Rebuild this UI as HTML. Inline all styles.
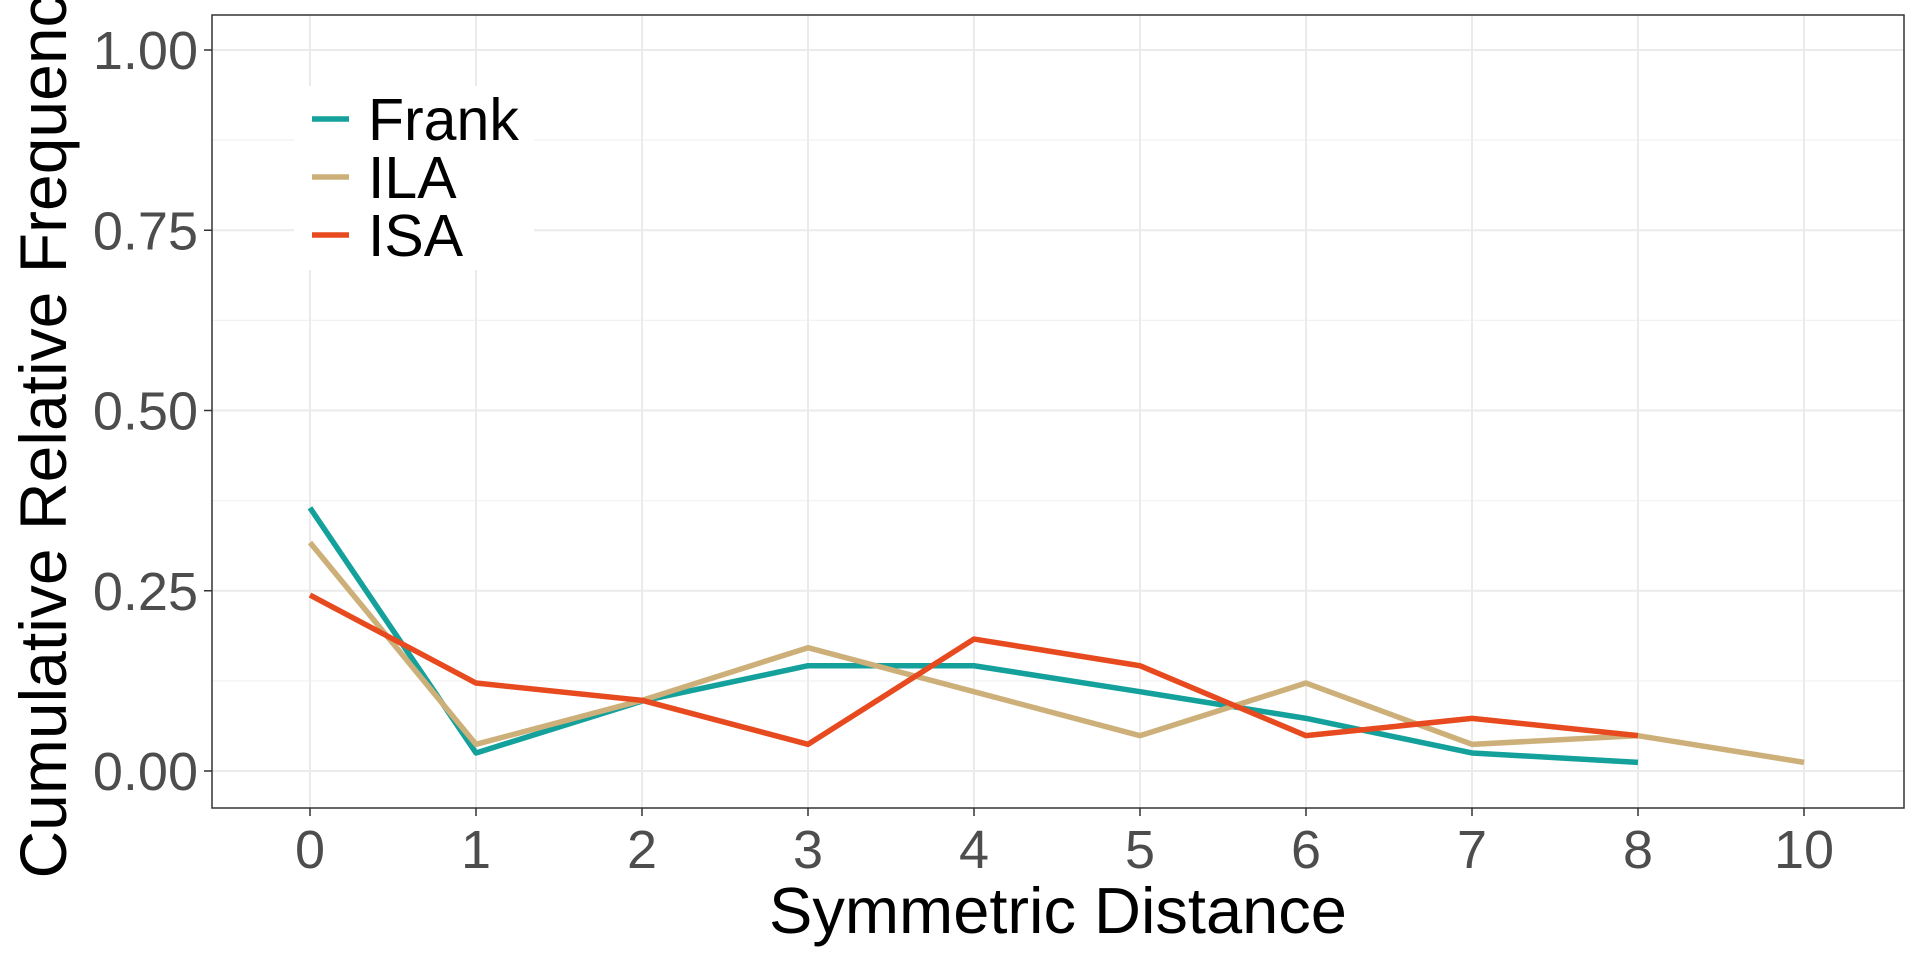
<!DOCTYPE html>
<html><head><meta charset="utf-8"><style>
html,body{margin:0;padding:0;background:#fff;overflow:hidden;}
svg text{font-family:"Liberation Sans",Arial,sans-serif;}
</style></head><body>
<svg id="chart" width="1920" height="960" viewBox="0 0 1920 960">
<rect x="0" y="0" width="1920" height="960" fill="#fff"/>
<g id="grid"></g>
<g id="series"></g>
<rect x="212" y="15" width="1692" height="793" fill="none" stroke="#333" stroke-width="1.5"/>
<g id="axes"></g>
<text x="0" y="0" transform="translate(66,420) rotate(-90)" text-anchor="middle" font-size="66" fill="#000">Cumulative Relative Frequency</text>
<text x="1058" y="933" text-anchor="middle" font-size="65" fill="#000">Symmetric Distance</text>
<g id="legend">
<rect x="294" y="86" width="240" height="184" fill="#fff"/>
</g>
</svg>
<script>
const categories = ["0","1","2","3","4","5","6","7","8","10"];
const frankValues = [0.365,0.025,0.097,0.146,0.146,0.110,0.073,0.025,0.012,null];
const ilaValues = [0.317,0.037,0.098,0.171,0.110,0.049,0.122,0.037,0.049,0.012];
const isaValues = [0.244,0.122,0.098,0.037,0.183,0.146,0.049,0.073,0.049,null];
const yTicks = [0,0.25,0.5,0.75,1.0];
const yTickLabels = ["0.00","0.25","0.50","0.75","1.00"];
const seriesNames = ["Frank","ILA","ISA"];

const NS="http://www.w3.org/2000/svg";
const xPos = i => 310 + i*(1804-310)/(categories.length-1);
const yPos = v => 771 - v*(771-50);
function mk(tag, attrs, parent){const e=document.createElementNS(NS,tag);for(const k in attrs)e.setAttribute(k,attrs[k]);parent.appendChild(e);return e;}
const grid=document.getElementById('grid'), axes=document.getElementById('axes'), ser=document.getElementById('series'), leg=document.getElementById('legend');
for(let i=0;i<yTicks.length-1;i++){
  const m=(yTicks[i]+yTicks[i+1])/2;
  const l=mk('line',{x1:212,x2:1904,y1:yPos(m),y2:yPos(m),stroke:'#f2f2f2','stroke-width':1.2},grid);
  
  
}
yTicks.forEach((t,i)=>{
  const l=mk('line',{x1:212,x2:1904,y1:yPos(t),y2:yPos(t),stroke:'#ebebeb','stroke-width':2},grid);
  
  
  const tk=mk('line',{x1:204,x2:212,y1:yPos(t),y2:yPos(t),stroke:'#333','stroke-width':1.5},axes);
  
  
  const tx=mk('text',{x:198,y:yPos(t)+19,'text-anchor':'end','font-size':54,fill:'#4d4d4d'},axes);
  tx.textContent=yTickLabels[i];
  
  
});
categories.forEach((c,i)=>{
  const l=mk('line',{x1:xPos(i),x2:xPos(i),y1:15,y2:808,stroke:'#ebebeb','stroke-width':2},grid);
  
  
  const tk=mk('line',{x1:xPos(i),x2:xPos(i),y1:808,y2:816,stroke:'#333','stroke-width':1.5},axes);
  
  
  const tx=mk('text',{x:xPos(i),y:868,'text-anchor':'middle','font-size':54,fill:'#4d4d4d'},axes);
  tx.textContent=c;
  
  
});
const colors=["#14a19c","#cdb079","#e84a1f"];
[frankValues,ilaValues,isaValues].forEach((vals,s)=>{
  const pts=[];vals.forEach((v,i)=>{if(v!==null)pts.push(xPos(i)+','+yPos(v));});
  const p=mk('polyline',{points:pts.join(' '),fill:'none',stroke:colors[s],'stroke-width':5.5,'stroke-linejoin':'round'},ser);
  
  
  const ly=119+s*58;
  const k=mk('line',{x1:312,x2:349,y1:ly,y2:ly,stroke:colors[s],'stroke-width':5.5},leg);
  
  
  const t=mk('text',{x:368,y:ly+21,'font-size':59,fill:'#000'},leg);
  t.textContent=seriesNames[s];
  
  
});
</script>
</body></html>
